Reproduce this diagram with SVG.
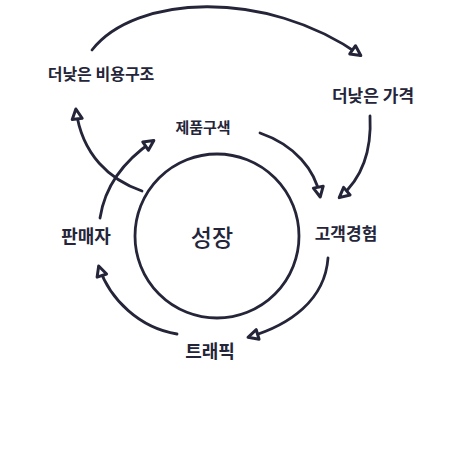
<svg xmlns="http://www.w3.org/2000/svg" width="470" height="470" viewBox="0 0 470 470">
<style>
.lbl{font-family:"Noto Sans CJK KR","Noto Sans",sans-serif;font-weight:700;fill:#25253a;text-anchor:middle;dominant-baseline:central}
.ln{fill:none;stroke:#25253a;stroke-width:2.8;stroke-linecap:round}
</style>
<defs>
<marker id="ah" markerUnits="userSpaceOnUse" markerWidth="16" markerHeight="16" refX="10" refY="6" orient="auto" viewBox="-2 -2 16 16">
<path d="M1,1 L11,6 L1,11 Z" fill="#ffffff" stroke="#25253a" stroke-width="3" stroke-linejoin="round"/>
</marker>
</defs>
<rect width="470" height="470" fill="#ffffff"/>
<g id="hub">
<circle cx="217" cy="236" r="82" class="ln"/>
<text x="212" y="236" class="lbl" style="font-size:23px;font-weight:500">성장</text>
</g>
<g id="connectors">
<path class="ln" d="M92,50 C135,-5 265,-12 360,55" marker-end="url(#ah)"/>
<path class="ln" d="M142,191 C110,180 82,155 76,110" marker-end="url(#ah)"/>
<path class="ln" d="M100,218 C105,185 125,160 153,141" marker-end="url(#ah)"/>
<path class="ln" d="M260,133 C295,145 315,170 320,196" marker-end="url(#ah)"/>
<path class="ln" d="M370,116 C372,155 360,180 340,197" marker-end="url(#ah)"/>
<path class="ln" d="M328,258 C325,300 290,325 249,337" marker-end="url(#ah)"/>
<path class="ln" d="M177,334 C140,328 110,300 99,267" marker-end="url(#ah)"/>
</g>
<g id="cost"><text x="101" y="73" class="lbl" style="font-size:16px">더낮은 비용구조</text></g>
<g id="price"><text x="373" y="94" class="lbl" style="font-size:17px">더낮은 가격</text></g>
<g id="selection"><text x="203" y="126" class="lbl" style="font-size:15px">제품구색</text></g>
<g id="experience"><text x="346" y="232" class="lbl" style="font-size:17px">고객경험</text></g>
<g id="sellers"><text x="86" y="235" class="lbl" style="font-size:18px">판매자</text></g>
<g id="traffic"><text x="210" y="350" class="lbl" style="font-size:18px">트래픽</text></g>
</svg>
